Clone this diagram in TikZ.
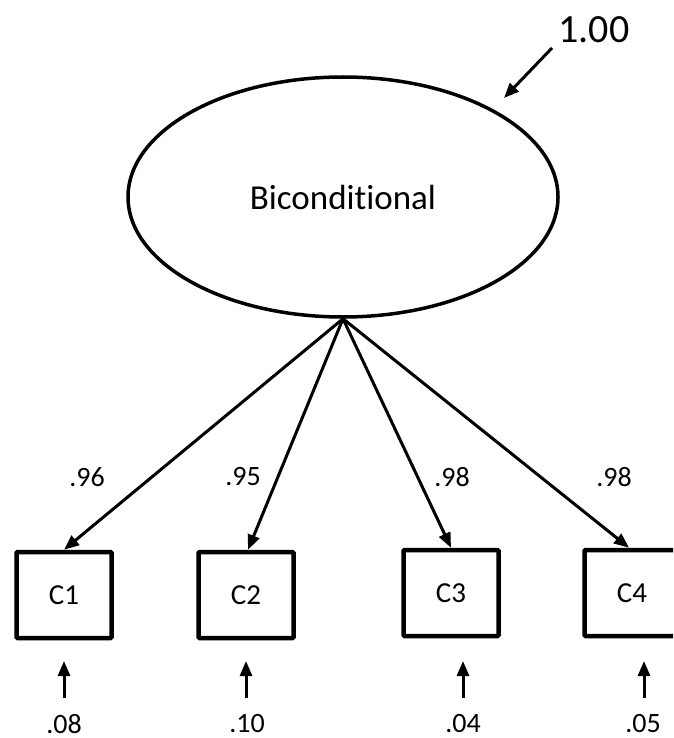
\documentclass[tikz,border=0pt]{standalone}
\usepackage{fontspec}
\setmainfont{Carlito}[Ligatures=NoCommon]
\usetikzlibrary{arrows.meta,shapes.geometric}
\begin{document}
\begin{tikzpicture}[x=1pt,y=-1pt,
  latent/.style={draw,line width=3.5pt,ellipse,minimum width=430pt,minimum height=240pt,inner sep=0pt,font=\fontsize{35}{40}\selectfont},
  observed/.style={draw,line width=4.5pt,rectangle,rounded corners=1pt,minimum width=95pt,minimum height=86pt,inner sep=0pt,font=\fontsize{29}{34}\selectfont},
  path/.style={line width=3pt,-{Triangle[length=15pt,width=12pt]}},
  coef/.style={font=\fontsize{28}{32}\selectfont,inner sep=0pt},
  big/.style={font=\fontsize{40}{46}\selectfont,inner sep=0pt}]
\useasboundingbox (0,0) rectangle (673,738);
\clip (0,0) rectangle (673,738);
% latent factor
\node[latent] (F) at (343,197) {Biconditional};
\node[big] (V) at (594,30) {1.00};
\coordinate (Vs) at (552,48);
\draw[path] (Vs) -- (504,98) coordinate (Ve);
% indicators
\node[observed] (C1) at (64,595) {C1};
\node[observed] (C2) at (246,595) {C2};
\node[observed] (C3) at (451,593) {C3};
\node[observed] (C4) at (632,593) {C4};
% loadings
\draw[path] (F.south) -- (C1.north);
\draw[path] (F.south) -- ([xshift=2pt]C2.north);
\draw[path] (F.south) -- (C3.north);
\draw[path] (F.south) -- ([xshift=-3pt]C4.north);
\node[coef] (l1) at (87,477) {.96};
\node[coef] (l2) at (243,477) {.95};
\node[coef] (l3) at (452,477) {.98};
\node[coef] (l4) at (614,477) {.98};
% residual variances
\node[coef] (e1) at (64,724) {.08};
\node[coef] (e2) at (247,724) {.10};
\node[coef] (e3) at (463,724) {.04};
\node[coef] (e4) at (643,724) {.05};
\foreach \i/\x in {1/64,2/246,3/463,4/644}{
  \coordinate (r\i a) at (\x,698);
  \coordinate (r\i b) at (\x,661);
  \draw[path] (r\i a) -- (r\i b);
}
\end{tikzpicture}
\end{document}
